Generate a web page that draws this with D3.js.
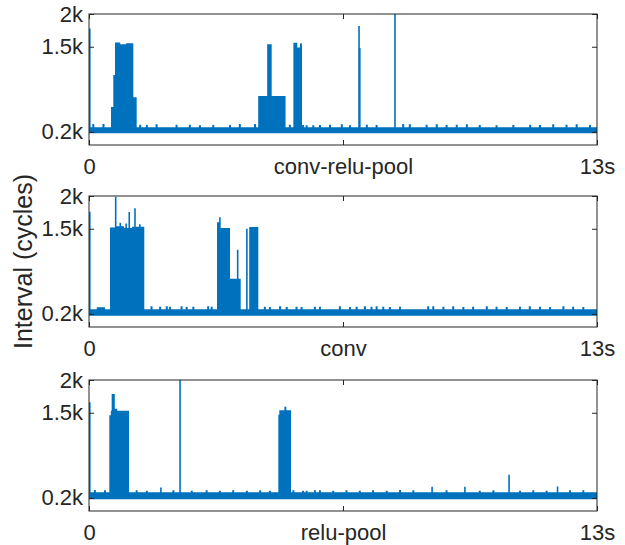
<!DOCTYPE html>
<html lang="en">
<head>
<meta charset="UTF-8" />
<title>Interval traces</title>
<script src="https://d3js.org/d3.v7.min.js"></script>
<style>
  body { margin: 0; background: #fff; }
  svg { display: block; font-family: "Liberation Sans", Arial, sans-serif; }
  .tick text { font-size: 22px; fill: #262626; }
  .tick line { stroke: #262626; }
</style>
</head>
<body>
<svg id="chart" width="625" height="545"></svg>
<script>
// ---- data ----
const panelNames = ["conv-relu-pool", "conv", "relu-pool"];
const xTickValues = [0, 6.5, 13];
const yTickValues = [200, 1500, 2000];
const yTickLabels = ["0.2k", "1.5k", "2k"];
const timeMax = 13;
const intervalMax = 2000;

// baseline band per panel [low, high] in cycles
const baseline1 = [178, 272];
const baseline2 = [172, 272];
const baseline3 = [180, 285];

// dense bursts: [tStart, tEnd, top]
const bursts1 = [
  [0.563, 0.622, 580], [0.622, 0.665, 1070], [0.665, 0.80, 1565], [0.80, 0.95, 1540],
  [0.95, 1.134, 1555], [1.134, 1.22, 730],
  [4.33, 5.03, 750], [4.56, 4.675, 1540],
  [5.23, 5.33, 1560], [5.33, 5.40, 1490], [5.40, 5.45, 1550]
];
const bursts2 = [
  [0.20, 0.41, 300],
  [0.537, 0.70, 1520], [0.70, 0.90, 1540], [0.90, 1.10, 1510], [1.10, 1.415, 1530],
  [3.276, 3.33, 1600], [3.33, 3.608, 1510], [3.608, 3.882, 735],
  [4.10, 4.333, 1525]
];
const bursts3 = [
  [0.52, 0.56, 1460], [0.56, 0.58, 1530], [0.58, 0.66, 1785], [0.66, 0.72, 1560],
  [0.72, 1.024, 1530],
  [4.845, 4.87, 1470], [4.87, 5.0, 1540], [5.0, 5.05, 1590], [5.05, 5.17, 1540]
];

// single tall spikes: [t, top]
const spikes1 = [[0.02, 1780], [6.91, 1815], [6.93, 1480], [7.83, 2000]];
const spikes2 = [[0.02, 1760], [0.683, 1990], [0.80, 1590], [0.95, 1580], [1.03, 1757],
  [1.177, 1813], [1.30, 1570], [3.35, 1676], [3.805, 1180], [4.04, 1500]];
const spikes3 = [[0.02, 1660], [2.33, 2000], [1.84, 358], [8.78, 370], [9.62, 370],
  [10.75, 554], [11.99, 375]];

// small noise bumps above the baseline: [t, top]
const fuzz1 = [[0.11, 320], [0.37, 320], [1.31, 310], [1.48, 305], [1.73, 315], [2.24, 310],
  [2.58, 310], [2.84, 300], [3.18, 305], [3.61, 305], [3.86, 320], [4.25, 320], [5.14, 310],
  [5.48, 305], [5.57, 300], [5.74, 300], [5.91, 305], [6.17, 310], [6.47, 315], [6.68, 300],
  [7.11, 310], [7.36, 305], [8.04, 320], [8.21, 315], [8.64, 310], [8.9, 315], [9.15, 305],
  [9.41, 310], [9.67, 315], [10.0, 305], [10.43, 300], [10.86, 305], [11.29, 310], [11.54, 305],
  [11.88, 315], [12.22, 310], [12.48, 315], [12.82, 305]];
const fuzz2 = [[1.60, 315], [1.82, 310], [1.99, 315], [2.07, 310], [2.37, 315], [2.5, 305],
  [2.67, 310], [3.05, 315], [3.14, 310], [4.5, 310], [4.63, 305], [4.89, 315], [5.06, 305],
  [5.31, 310], [5.44, 305], [5.78, 310], [5.91, 310], [6.42, 315], [6.68, 305], [6.85, 310],
  [7.06, 315], [7.23, 310], [7.36, 315], [7.53, 310], [7.70, 305], [7.96, 310], [8.68, 315],
  [8.81, 315], [9.07, 310], [9.32, 315], [9.58, 305], [9.83, 310], [10.18, 315], [10.43, 310],
  [10.69, 305], [11.03, 310], [11.28, 315], [11.54, 310], [11.80, 305], [12.14, 315],
  [12.39, 310], [12.65, 305]];
const fuzz3 = [[0.15, 320], [0.41, 315], [1.22, 315], [1.48, 310], [2.16, 315], [2.63, 310],
  [3.01, 315], [3.35, 310], [3.69, 315], [4.04, 310], [4.38, 315], [4.63, 310], [5.23, 315],
  [5.48, 310], [5.78, 315], [5.57, 310], [5.91, 315], [6.25, 310], [6.59, 315], [6.93, 310],
  [7.27, 315], [7.62, 310], [7.96, 320], [8.30, 315], [9.15, 315], [10.0, 310], [10.35, 315],
  [11.03, 310], [11.37, 315], [11.71, 310], [12.31, 315], [12.65, 315]];

const panels = [
  { name: panelNames[0], base: baseline1, bursts: bursts1, spikes: spikes1, fuzz: fuzz1 },
  { name: panelNames[1], base: baseline2, bursts: bursts2, spikes: spikes2, fuzz: fuzz2 },
  { name: panelNames[2], base: baseline3, bursts: bursts3, spikes: spikes3, fuzz: fuzz3 }
];

// ---- layout ----
const color = "#0072BD", ink = "#262626";
const left = 89, right = 597, panelH = 131;
const tops = [14, 196, 380];

const svg = d3.select("#chart");
const x = d3.scaleLinear().domain([0, timeMax]).range([left, right]);

// turn overlapping [x0, x1, value] pieces into one upper envelope (step outline)
function envelope(pieces) {
  const cuts = Array.from(new Set(pieces.flatMap(d => [d[0], d[1]]))).sort((a, b) => a - b);
  const pts = [];
  for (let k = 0; k < cuts.length - 1; k++) {
    const a = cuts[k], b = cuts[k + 1];
    const v = d3.max(pieces.filter(d => d[0] <= a && d[1] >= b), d => d[2]);
    pts.push({ px: a, v });
  }
  pts.push({ px: cuts[cuts.length - 1], v: pts[pts.length - 1].v });
  return pts;
}

panels.forEach((p, i) => {
  const top = tops[i], bottom = top + panelH;
  const y = d3.scaleLinear().domain([0, intervalMax]).range([bottom, top]);
  const g = svg.append("g");

  // pieces in pixel x so spike widths stay fixed
  const pieces = [[x(0), x(timeMax), p.base[1]]]
    .concat(p.bursts.map(d => [x(d[0]), x(d[1]), d[2]]))
    .concat(p.fuzz.map(d => [x(d[0]) - 1, x(d[0]) + 1, d[1]]))
    .concat(p.spikes.map(d => [Math.max(x(0), x(d[0]) - 0.8), x(d[0]) + 0.8, d[1]]));

  const area = d3.area()
    .curve(d3.curveStepAfter)
    .x(d => d.px)
    .y0(y(p.base[0]))
    .y1(d => y(d.v));

  g.append("path")
    .attr("d", area(envelope(pieces)))
    .attr("fill", color);

  // axes, ticks pointing inward like the original
  const xLabels = ["0", p.name, "13s"];
  g.append("g").attr("transform", `translate(0,${bottom})`)
    .call(d3.axisBottom(x).tickValues(xTickValues).tickSize(-5).tickPadding(13)
      .tickFormat((d, k) => xLabels[k]));
  g.append("g").attr("transform", `translate(0,${top})`)
    .call(d3.axisTop(x).tickValues(xTickValues).tickSize(-5).tickFormat(""));
  g.append("g").attr("transform", `translate(${left},0)`)
    .call(d3.axisLeft(y).tickValues(yTickValues).tickSize(-5).tickPadding(6)
      .tickFormat((d, k) => yTickLabels[k]));
  g.append("g").attr("transform", `translate(${right},0)`)
    .call(d3.axisRight(y).tickValues(yTickValues).tickSize(-5).tickFormat(""));
  g.selectAll(".domain").remove();
  g.selectAll(".tick text").attr("font-family", null).attr("font-size", null);

  g.append("rect")
    .attr("x", left).attr("y", top).attr("width", right - left).attr("height", panelH)
    .attr("fill", "none").attr("stroke", ink).attr("stroke-width", 1);
});

svg.append("text")
  .attr("transform", `translate(32,${(tops[1] + tops[1] + panelH) / 2}) rotate(-90)`)
  .attr("text-anchor", "middle")
  .attr("fill", ink)
  .style("font-size", "25px")
  .text("Interval (cycles)");
</script>
</body>
</html>
